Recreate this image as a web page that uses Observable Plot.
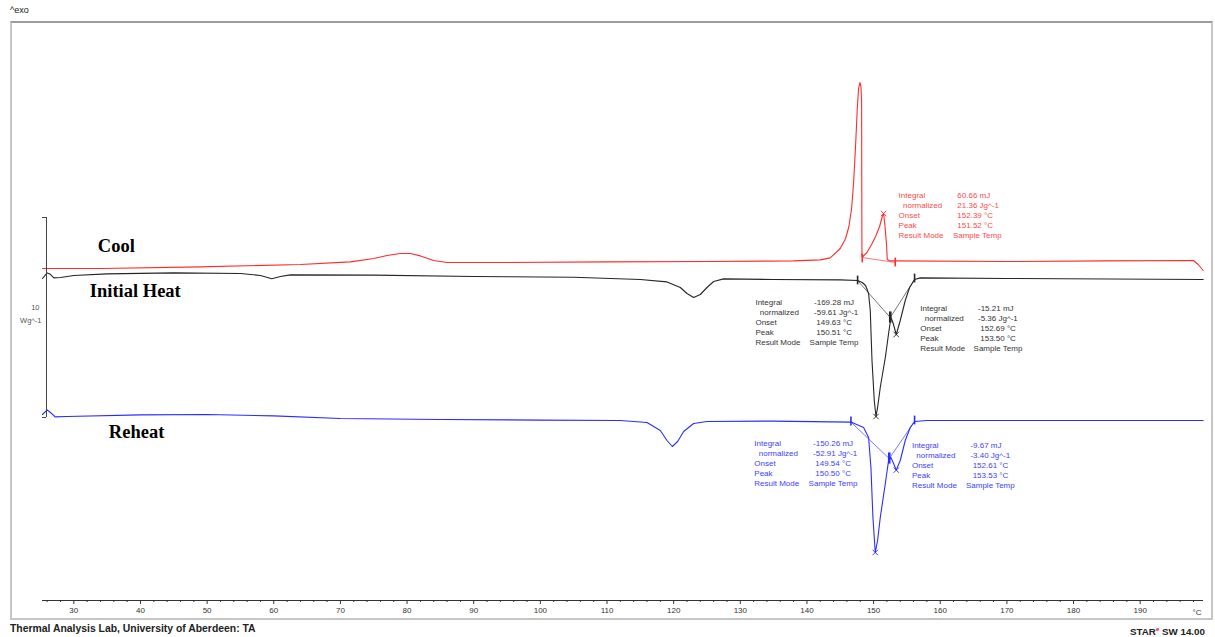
<!DOCTYPE html>
<html><head><meta charset="utf-8">
<script src="https://cdn.jsdelivr.net/npm/d3@7"></script>
<script src="https://cdn.jsdelivr.net/npm/@observablehq/plot@0.6"></script>
<style>
body{margin:0;background:#fff;font-family:"Liberation Sans",Arial,sans-serif;}
#wrap{position:relative;width:1215px;height:637px;overflow:hidden;}
#title{height:16px;box-sizing:border-box;padding:6px 0 0 10px;font-size:9px;line-height:9px;color:#222;}
#chart{height:608px;}
#footer{height:13px;display:flex;justify-content:space-between;padding:0 10px 0 10px;line-height:10px;font-weight:bold;color:#222;}
#footer .l{font-size:10.4px;}
#footer .r{font-size:9.8px;}
#frame{position:absolute;left:10px;top:21px;width:1203px;height:599px;box-sizing:border-box;border:2px solid #c6c6c6;border-top-color:#9c9c9c;pointer-events:none;z-index:2;}
sup{color:#e00;font-size:6px;}
</style></head>
<body><div id="wrap">
<div id="title">^exo</div>
<div id="chart"></div>
<div id="footer"><span class="l">Thermal Analysis Lab, University of Aberdeen: TA</span><span class="r">STAR<sup>e</sup> SW 14.00</span></div>
<div id="frame"></div>
</div>
<script>
// ---- data (temperature °C, heat flow W/g incl. display offset) ----
const coolT = [25.3,26.0,34,49,64,71.5,75,77,79,80.5,82,84,86,95,110,125,138,142,143.5,145.0,145.8,146.3,146.7,147.0,147.3,147.55,147.75,147.95,148.1,148.2,148.25,148.4,149.0,149.7,150.3,150.9,151.3,151.5,151.7,151.95,152.05,152.5,170,185,198.0,198.7,199.45];
const coolW = [7.45,7.45,7.45,7.53,7.65,7.78,7.95,8.1,8.2,8.2,8.08,7.85,7.75,7.75,7.78,7.8,7.83,7.88,7.98,8.45,8.95,9.55,10.45,11.75,13.6,15.45,16.45,16.75,16.55,15.85,8.05,8.05,8.25,8.65,9.05,9.55,10.05,10.2,9.6,8.6,7.9,7.83,7.8,7.83,7.85,7.65,7.35];

const heatT = [25.3,26.0,26.4,27.0,28.0,30,35,45,55,58,59.7,61.0,62.5,75,90,105,115,119,121,122,123,124,125,126,127.5,135,145,147.6,148.3,148.8,149.25,149.5,149.76,150.1,150.36,150.6,151.0,151.76,152.25,152.6,152.9,153.4,154.0,154.75,155.4,156.15,157.0,170,199.45];
const heatW = [6.95,7.23,7.18,6.98,7.0,7.1,7.18,7.23,7.2,7.1,6.94,7.05,7.13,7.12,7.05,7.01,6.9,6.78,6.5,6.2,6.0,6.15,6.5,6.8,6.93,6.9,6.88,6.85,6.75,6.6,6.2,5.35,2.85,0.85,0.05,0.5,1.5,3.0,4.2,5.0,4.75,4.15,4.85,5.85,6.5,6.9,6.98,6.95,6.9];

const reheatT = [25.3,26.0,26.5,27.2,29,40,50,60,70,85,100,112,116,118,119,119.8,120.6,121.5,123,125,135,146.6,148.5,149.25,149.6,149.9,150.25,150.6,151.0,151.76,152.25,152.6,153.0,153.4,154.0,154.75,155.5,156.15,158,199.45];
const reheatW = [0.15,0.38,0.25,0.03,0.05,0.13,0.15,0.08,-0.05,-0.1,-0.13,-0.15,-0.25,-0.65,-1.15,-1.45,-1.2,-0.7,-0.3,-0.2,-0.18,-0.23,-0.5,-1.0,-2.5,-5.0,-6.75,-6.15,-5.0,-3.3,-2.15,-2.0,-2.3,-2.63,-2.15,-1.15,-0.5,-0.2,-0.15,-0.15];

// integration baselines [T, W]
const coolBaseT = [148.3,153.25], coolBaseW = [8.0,7.75];
const heatBaseT = [147.6,152.5,156.15], heatBaseW = [6.85,5.0,6.9];
const reheatBaseT = [146.6,152.35,156.15], reheatBaseW = [-0.23,-2.05,-0.2];
// integration limits
const coolLimT = [148.3,153.25], coolLimW = [7.95,7.75];
const heatLimT = [147.6,156.15], heatLimW = [6.85,6.95];
const reheatLimT = [146.6,156.15], reheatLimW = [-0.2,-0.15];
// peak markers
const coolPeakT = [151.5], coolPeakW = [10.2];
const heatPeakT = [150.36,153.4], heatPeakW = [0.05,4.15];
const reheatPeakT = [150.25,153.4], reheatPeakW = [-6.75,-2.63];

const seriesNames = ["Cool","Initial Heat","Reheat"];
const xTicks = [30,40,50,60,70,80,90,100,110,120,130,140,150,160,170,180,190];
const scaleBarW = [0,10];

const resultLabels = ["Integral","\u00a0\u00a0normalized","Onset","Peak","Result Mode"];
const coolResult = ["60.66 mJ","21.36 Jg^-1","152.39 °C","151.52 °C","Sample Temp"];
const heatResult1 = ["-169.28 mJ","-59.61 Jg^-1","149.63 °C","150.51 °C","Sample Temp"];
const heatResult2 = ["-15.21 mJ","-5.36 Jg^-1","152.69 °C","153.50 °C","Sample Temp"];
const reheatResult1 = ["-150.26 mJ","-52.91 Jg^-1","149.54 °C","150.50 °C","Sample Temp"];
const reheatResult2 = ["-9.67 mJ","-3.40 Jg^-1","152.61 °C","153.53 °C","Sample Temp"];

// ---- layout / style ----
const RED = "#ff2b2b", RED_T = "#ff4a4a", BLK = "#262626", BLK_T = "#333", BLU = "#2c2cff", BLU_T = "#4040ff";
const X_DOMAIN = [25.3, 199.5], Y_DOMAIN = [-9.15, 19.7];
const SCALE_BAR_T = 25.9;
const blocks = [
  {vals: coolResult, lx: 153.75, vx: 161.9, y: 11.35, color: RED_T, signed: false},
  {vals: heatResult1, lx: 132.27, vx: 140.4, y: 5.99, color: BLK_T, signed: true},
  {vals: heatResult2, lx: 157.0, vx: 165.0, y: 5.7, color: BLK_T, signed: true},
  {vals: reheatResult1, lx: 132.1, vx: 140.25, y: -1.05, color: BLU_T, signed: true},
  {vals: reheatResult2, lx: 155.75, vx: 163.86, y: -1.15, color: BLU_T, signed: true}
];
const seriesLabelPos = [{x: 33.6, y: 8.55}, {x: 32.4, y: 6.3}, {x: 35.25, y: -0.75}];

const zip = (T, W) => T.map((t, i) => ({T: t, W: W[i]}));
const pad = (v, signed, i) => i === 4 ? v : "\u00a0".repeat(signed && !v.startsWith("-") ? 3 : 2) + v;

const curves = [
  {data: zip(coolT, coolW), color: RED, base: zip(coolBaseT, coolBaseW), lim: zip(coolLimT, coolLimW), pk: zip(coolPeakT, coolPeakW), j: null},
  {data: zip(heatT, heatW), color: BLK, base: zip(heatBaseT, heatBaseW), lim: zip(heatLimT, heatLimW), pk: zip(heatPeakT, heatPeakW), j: 1},
  {data: zip(reheatT, reheatW), color: BLU, base: zip(reheatBaseT, reheatBaseW), lim: zip(reheatLimT, reheatLimW), pk: zip(reheatPeakT, reheatPeakW), j: 1}
];

const marks = [];
for (const c of curves) {
  marks.push(Plot.line(c.base, {x: "T", y: "W", stroke: c.color, strokeWidth: 0.8, strokeOpacity: 0.8}));
  marks.push(Plot.line(c.data, {x: "T", y: "W", stroke: c.color, strokeWidth: 1.1}));
  marks.push(Plot.ruleX(c.lim, {x: "T", y1: d => d.W - 0.22, y2: d => d.W + 0.22, stroke: c.color, strokeWidth: 1.6}));
  marks.push(Plot.dot(c.pk, {x: "T", y: "W", symbol: "times", r: 2.6, stroke: c.color, strokeWidth: 0.9}));
  if (c.j) {
    const jp = c.base[1];
    marks.push(Plot.ruleX([jp], {x: "T", y1: d => d.W - 0.28, y2: d => d.W + 0.28, stroke: c.color, strokeWidth: 2.6}));
  }
}
// annotation blocks
for (const b of blocks) {
  marks.push(Plot.text([b], {x: "lx", y: "y", text: () => resultLabels.join("\n"), fill: b.color, fontSize: 8, lineHeight: 1.25, textAnchor: "start", lineAnchor: "top", fontFamily: "Liberation Sans, Arial, sans-serif"}));
  marks.push(Plot.text([b], {x: "vx", y: "y", text: d => d.vals.map((v, i) => pad(v, d.signed, i)).join("\n"), fill: b.color, fontSize: 8, lineHeight: 1.25, textAnchor: "start", lineAnchor: "top", fontFamily: "Liberation Sans, Arial, sans-serif"}));
}
// series labels
marks.push(Plot.text(seriesNames, {x: (d, i) => seriesLabelPos[i].x, y: (d, i) => seriesLabelPos[i].y, text: d => d, fontFamily: "Liberation Serif, Times New Roman, serif", fontWeight: "bold", fontSize: 18.5, textAnchor: "start", fill: "#000"}));
// scale bar
marks.push(Plot.ruleX([SCALE_BAR_T], {y1: scaleBarW[0], y2: scaleBarW[1], stroke: "#444", strokeWidth: 1}));
marks.push(Plot.ruleY(scaleBarW, {x1: X_DOMAIN[0], x2: SCALE_BAR_T, stroke: "#444", strokeWidth: 1}));
marks.push(Plot.text(["10"], {x: X_DOMAIN[0], y: 5.5, dx: -3, textAnchor: "end", fontSize: 7.5, fill: "#555"}));
marks.push(Plot.text(["Wg^-1"], {x: X_DOMAIN[0], y: 4.85, dx: -1, textAnchor: "end", fontSize: 7.5, fill: "#555"}));
// x axis
marks.push(Plot.ruleY([Y_DOMAIN[0]], {stroke: "#333", strokeWidth: 1}));
marks.push(Plot.axisX({ticks: d3.range(26, 200, 2).filter(t => t % 10 !== 0), tickSize: 2, tickFormat: () => "", stroke: "#333"}));
marks.push(Plot.axisX({ticks: xTicks, tickSize: 4, tickPadding: 3, fontSize: 8, fill: "#333", stroke: "#333", label: null}));
marks.push(Plot.text(["°C"], {frameAnchor: "bottom-right", dy: 12, dx: -2, textAnchor: "end", lineAnchor: "middle", fontSize: 8, fill: "#333"}));

const chart = Plot.plot({
  width: 1215, height: 608,
  marginLeft: 42, marginRight: 12, marginTop: 7, marginBottom: 24,
  x: {domain: X_DOMAIN, axis: null},
  y: {domain: Y_DOMAIN, axis: null},
  style: {fontFamily: "Liberation Sans, Arial, sans-serif", background: "transparent"},
  marks
});
document.getElementById("chart").appendChild(chart);
</script>
</body></html>
